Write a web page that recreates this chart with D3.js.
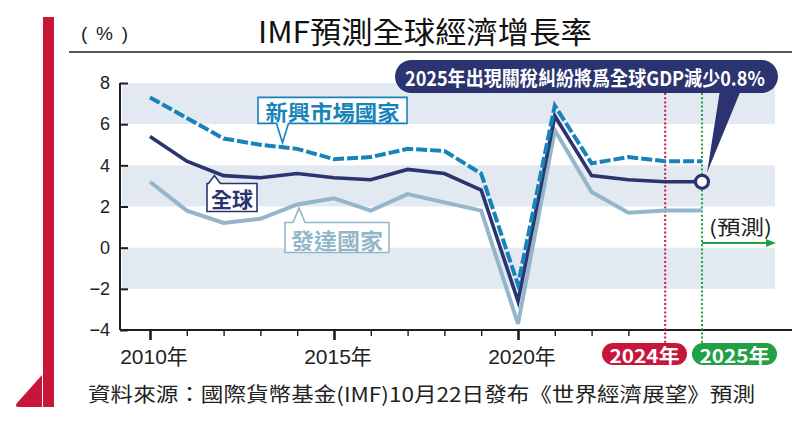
<!DOCTYPE html>
<html><head><meta charset="utf-8">
<script src="https://cdn.jsdelivr.net/npm/d3@7"></script>
<style>
html,body{margin:0;padding:0;background:#fff;}
svg{display:block;}
</style></head>
<body><svg id="c" width="800" height="426"></svg>
<script>
const years = [2010,2011,2012,2013,2014,2015,2016,2017,2018,2019,2020,2021,2022,2023,2024,2025];
const world = [5.4,4.2,3.5,3.4,3.6,3.4,3.3,3.8,3.6,2.8,-2.6,6.4,3.5,3.3,3.2,3.2];
const advanced = [3.2,1.8,1.2,1.4,2.1,2.4,1.8,2.6,2.2,1.8,-3.7,5.7,2.7,1.7,1.8,1.8];
const emerging = [7.3,6.3,5.3,5.0,4.8,4.3,4.4,4.8,4.7,3.6,-1.8,6.9,4.1,4.4,4.2,4.2];
const yTicks = [-4,-2,0,2,4,6,8];
const bands = [[6,8],[2,4],[-2,0]];
const xLabelYears = [2010,2015,2020];
const title = "IMF預測全球經濟增長率";
const unitLabel = "( % )";
const calloutText = "2025年出現關稅糾紛將爲全球GDP減少0.8%";
const sourceText = "資料來源：國際貨幣基金(IMF)10月22日發布《世界經濟展望》預測";
const seriesNames = {emerging:"新興市場國家", world:"全球", advanced:"發達國家"};

const C = {navy:"#2b3470", teal:"#1783b9", light:"#94b6ca", band:"#e3e9f1", red:"#c8163a", green:"#22a045", axis:"#1e1e1e"};
const FONT = "'Liberation Sans','Noto Sans CJK TC',sans-serif";
const CJK = "'Noto Sans CJK TC','Noto Sans',sans-serif";

const svg = d3.select("#c");
const x = d3.scaleLinear().domain([2010,2025]).range([150,702]);
const y = d3.scaleLinear().domain([-4,8]).range([330,83]);
const xL = x.invert(120), xR = x.invert(792), xBand = x.invert(775);

// fit text horizontally by scaling glyphs (keeps bbox honest)
function fitText(sel, x0, width, anchor){
  const w = sel.node().getComputedTextLength();
  const s = width / w;
  const tx = anchor==="middle" ? x0 : x0;
  sel.attr("x",0).attr("transform",`translate(${tx},0) scale(${s},1)`);
  return sel;
}

// left red bar
svg.append("rect").attr("x",43).attr("y",17).attr("width",11).attr("height",390).attr("fill",C.red);
svg.append("path").attr("d","M42,375 L42,407 L19,407 Q14,407 17,403 Z").attr("fill",C.red);

// title
fitText(svg.append("text").attr("y",43).attr("font-family",CJK).attr("font-size",30).attr("fill","#111").text(title),258,334);
svg.append("text").attr("x",81).attr("y",40).attr("font-family",FONT).attr("font-size",19)
  .attr("textLength",47).attr("lengthAdjust","spacing").attr("fill","#222").text(unitLabel);
svg.append("line").attr("x1",69).attr("x2",792).attr("y1",52).attr("y2",52).attr("stroke","#222").attr("stroke-width",1.6);

// bands
svg.append("g").selectAll("rect").data(bands).join("rect")
  .attr("x",x(xL)+2).attr("width",x(xBand)-x(xL)-2)
  .attr("y",d=>y(d[1])).attr("height",d=>y(d[0])-y(d[1])).attr("fill",C.band);

// y axis
const ya = svg.append("g").attr("transform",`translate(${x(xL)},0)`)
  .call(d3.axisLeft(y).tickValues(yTicks).tickSize(-8).tickPadding(10)
    .tickFormat(d=>d<0?"−"+Math.abs(d):d));
ya.select(".domain").attr("stroke",C.axis).attr("stroke-width",2).attr("d",`M0,${y(8)}V${y(-4)}`);
ya.selectAll(".tick line").attr("stroke",C.axis).attr("stroke-width",2);
ya.selectAll(".tick text").attr("font-family",FONT).attr("font-size",18).attr("fill","#222");

// x axis
const xa = svg.append("g").attr("transform",`translate(0,${y(-4)})`)
  .call(d3.axisBottom(x).tickValues(years).tickSize(6).tickFormat(""));
xa.select(".domain").attr("d",`M${x(xL)},0H${x(xR)}`).attr("stroke",C.axis).attr("stroke-width",2);
xa.selectAll(".tick line").attr("stroke",C.axis).attr("stroke-width",1.4)
  .filter(d=>xLabelYears.includes(d)).attr("y2",10).attr("stroke-width",2.6);
xa.selectAll(".tick").filter(d=>d===2024||d===2025).select("line").attr("stroke","none");
svg.append("g").selectAll("text").data(xLabelYears).join("text")
  .attr("x",d=>x(d)+4).attr("y",364).attr("text-anchor","middle").attr("font-family",FONT)
  .attr("font-size",21).attr("fill","#222").text(d=>d+"年");

// dotted forecast lines
[[2024,C.red],[2025,C.green]].forEach(([yr,col])=>{
  svg.append("line").attr("x1",x(yr)).attr("x2",x(yr)).attr("y1",93).attr("y2",343)
    .attr("stroke",col).attr("stroke-width",2).attr("stroke-dasharray","2,2.2");
});

// lines
const line = d3.line().x((d,i)=>x(years[i])).y(d=>y(d));
svg.append("path").datum(advanced).attr("d",line).attr("fill","none").attr("stroke",C.light).attr("stroke-width",4).attr("stroke-linejoin","miter");
svg.append("path").datum(world).attr("d",line).attr("fill","none").attr("stroke",C.navy).attr("stroke-width",3.6).attr("stroke-linejoin","miter");
svg.append("path").datum(emerging).attr("d",line).attr("fill","none").attr("stroke",C.teal).attr("stroke-width",4).attr("stroke-dasharray","11,3").attr("stroke-linejoin","miter");

// series label boxes
function labelBox(cfg){
  const g = svg.append("g");
  const {bx,by,bw,bh,tipX,tipY,col,text,tl,up,fs} = cfg;
  const nb = 6;
  let d;
  if(up){
    d = `M${bx},${by} H${tipX-nb} L${tipX},${tipY} L${tipX+nb},${by} H${bx+bw} V${by+bh} H${bx} Z`;
  } else {
    d = `M${bx},${by} H${bx+bw} V${by+bh} H${tipX+nb} L${tipX},${tipY} L${tipX-nb},${by+bh} H${bx} Z`;
  }
  g.append("path").attr("d",d).attr("fill","#fff").attr("stroke",col).attr("stroke-width",1.6).attr("stroke-linejoin","miter");
  g.append("text").attr("x",bx+bw/2).attr("y",by+bh/2+1).attr("text-anchor","middle").attr("dominant-baseline","central")
    .attr("font-family",CJK).attr("font-weight","bold").attr("font-size",fs).attr("fill",col)
    .attr("textLength",tl).attr("lengthAdjust","spacingAndGlyphs").text(text);
}
labelBox({bx:258,by:y(7.3),bw:149,bh:26,tipX:x(2013.6),tipY:y(5.1),col:C.teal,text:seriesNames.emerging,tl:134,up:false,fs:21});
labelBox({bx:207,by:y(3.12),bw:50,bh:28,tipX:x(2011.75),tipY:y(3.5),col:C.navy,text:seriesNames.world,tl:42,up:true,fs:21});
labelBox({bx:285,by:y(1.22),bw:104,bh:30,tipX:x(2014.05),tipY:y(1.93),col:C.light,text:seriesNames.advanced,tl:92,up:true,fs:22});

// callout
const cx = x(2025), cy = y(world[world.length-1]);
svg.append("path").attr("d",`M720,90 L741,90 L${cx+5},${cy-9} Z`).attr("fill",C.navy);
svg.append("rect").attr("x",395).attr("y",60).attr("width",383).attr("height",33).attr("rx",16.5).attr("fill",C.navy);
fitText(svg.append("text").attr("y",77).attr("dominant-baseline","central").attr("font-family",CJK)
  .attr("font-weight","bold").attr("font-size",20).attr("fill","#fff").text(calloutText),405,360);
svg.append("circle").attr("cx",cx).attr("cy",cy).attr("r",6.5).attr("fill","#fff").attr("stroke",C.navy).attr("stroke-width",3.2);

// forecast label + arrow
svg.append("text").attr("x",709).attr("y",226).attr("dominant-baseline","central").attr("font-family",CJK)
  .attr("font-size",20).attr("fill","#222").attr("textLength",63).attr("lengthAdjust","spacingAndGlyphs").text("(預測)");
svg.append("line").attr("x1",x(2025)).attr("x2",768).attr("y1",243).attr("y2",243).attr("stroke",C.green).attr("stroke-width",2);
svg.append("path").attr("d","M776,243 L766,239 L766,247 Z").attr("fill",C.green);

// year pills
[[2024,C.red,602],[2025,C.green,692]].forEach(([yr,col,px])=>{
  svg.append("rect").attr("x",px).attr("y",343).attr("width",85).attr("height",22).attr("rx",11).attr("fill",col);
  svg.append("text").attr("x",px+42.5).attr("y",354.5).attr("text-anchor","middle").attr("dominant-baseline","central")
    .attr("font-family",CJK).attr("font-weight","bold").attr("font-size",19).attr("fill","#fff")
    .attr("textLength",70).attr("lengthAdjust","spacingAndGlyphs").text(yr+"年");
});

// source
svg.append("text").attr("x",88).attr("y",402).attr("font-family",CJK).attr("font-size",20).attr("fill","#222")
  .attr("textLength",667).attr("lengthAdjust","spacingAndGlyphs").text(sourceText);
</script></body></html>
